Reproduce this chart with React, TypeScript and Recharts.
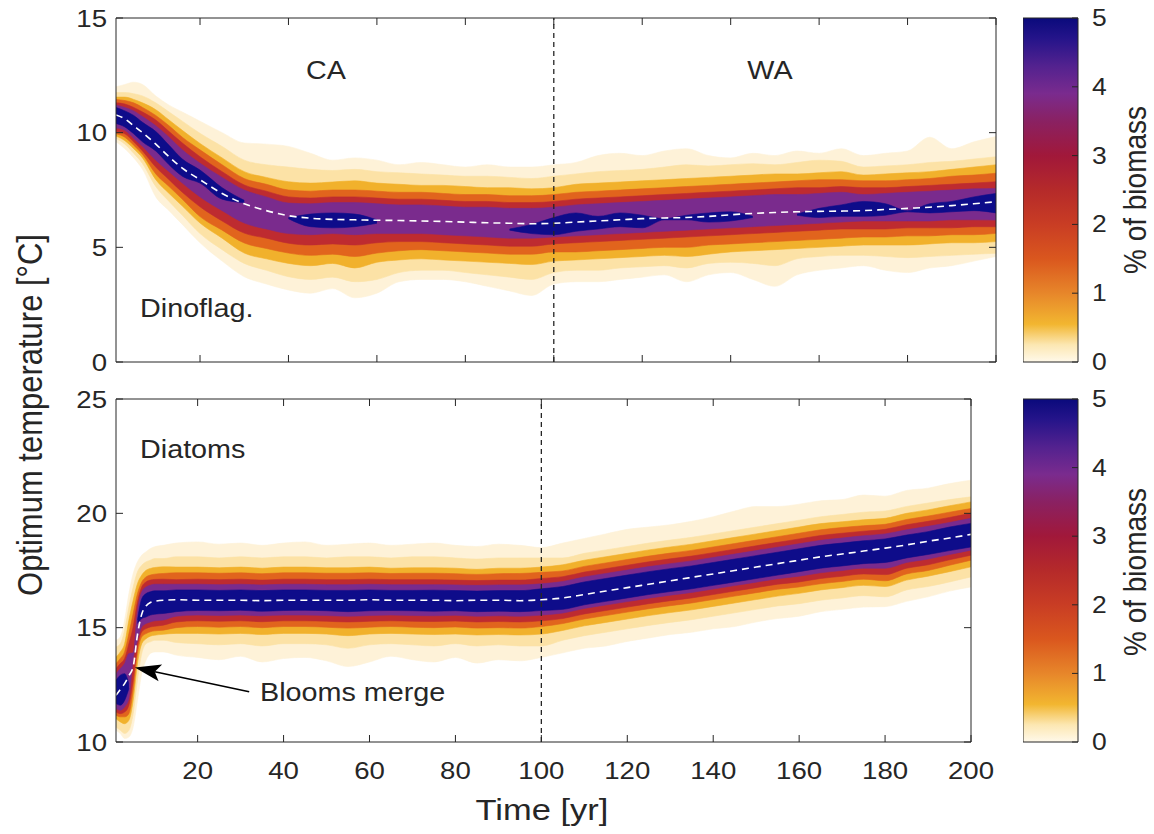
import {
  Area,
  Bar,
  BarChart,
  ComposedChart,
  Line,
  ReferenceLine,
  XAxis,
  YAxis,
} from "recharts";

type Range = [number, number] | null;

const INK = "#262626";
const FONT = '"Liberation Sans", Arial, Helvetica, sans-serif';
const STRETCH = 1.15;

// ---- Dinoflagellates (top panel) ----
const dinoYears = [1, 3, 5, 7, 10, 13, 16, 20, 25, 30, 35, 40, 45, 50, 55, 60, 65, 70, 75, 80, 85, 90, 95, 100, 105, 110, 115, 120, 125, 130, 135, 140, 145, 150, 155, 160, 165, 170, 175, 180, 185, 190, 195, 200];
const dinoMean = [10.77, 10.6, 10.3, 10.0, 9.5, 8.95, 8.45, 7.95, 7.35, 6.9, 6.6, 6.38, 6.27, 6.22, 6.2, 6.18, 6.17, 6.15, 6.13, 6.1, 6.07, 6.05, 6.03, 6.05, 6.1, 6.15, 6.2, 6.25, 6.28, 6.3, 6.35, 6.42, 6.48, 6.52, 6.55, 6.57, 6.58, 6.6, 6.65, 6.7, 6.75, 6.82, 6.9, 6.99];
const dinoCream: Range[] = [[9.6, 12.0], [9.3, 12.1], [8.9, 12.2], [8.4, 12.1], [7.2, 11.6], [6.6, 11.2], [6.0, 10.9], [5.2, 10.5], [4.4, 10.0], [3.72, 9.55], [3.4, 9.5], [3.14, 9.4], [3.0, 9.1], [3.2, 8.8], [2.8, 8.9], [3.0, 8.8], [3.5, 8.6], [3.6, 8.7], [3.6, 8.6], [3.5, 8.5], [3.3, 8.6], [3.1, 8.5], [2.9, 8.5], [3.4, 8.6], [3.5, 8.7], [3.5, 9.0], [3.6, 9.1], [3.7, 9.0], [3.8, 9.2], [3.5, 9.3], [3.8, 9.0], [3.9, 8.9], [3.6, 9.1], [3.3, 9.0], [3.8, 9.2], [4.0, 9.1], [4.1, 9.3], [4.2, 9.0], [4.0, 9.1], [3.9, 9.2], [4.1, 9.8], [4.2, 9.3], [4.4, 9.6], [4.6, 9.83]];
const dinoPeach: Range[] = [[9.75, 11.75], [9.5, 11.75], [9.1, 11.7], [8.65, 11.6], [7.65, 11.3], [7.0, 10.9], [6.4, 10.5], [5.6, 9.97], [4.9, 9.4], [4.3, 8.8], [4.0, 8.6], [3.72, 8.5], [3.6, 8.4], [3.7, 8.35], [3.5, 8.4], [3.6, 8.3], [3.9, 8.25], [4.0, 8.2], [4.0, 8.15], [3.9, 8.1], [3.8, 8.1], [3.7, 8.05], [3.6, 8.0], [3.9, 8.1], [4.0, 8.2], [4.0, 8.3], [4.1, 8.35], [4.15, 8.4], [4.2, 8.5], [4.1, 8.6], [4.3, 8.55], [4.35, 8.6], [4.3, 8.65], [4.2, 8.6], [4.5, 8.7], [4.6, 8.8], [4.65, 8.75], [4.65, 8.5], [4.6, 8.55], [4.55, 8.6], [4.6, 8.7], [4.65, 8.75], [4.7, 8.85], [4.74, 8.95]];
const dinoGold: Range[] = [[9.85, 11.55], [9.65, 11.55], [9.3, 11.45], [8.9, 11.3], [7.95, 11.0], [7.35, 10.55], [6.8, 10.1], [6.06, 9.53], [5.4, 8.9], [4.75, 8.3], [4.5, 8.05], [4.3, 7.86], [4.2, 7.8], [4.3, 7.85], [4.1, 7.9], [4.35, 7.8], [4.45, 7.75], [4.5, 7.7], [4.45, 7.7], [4.4, 7.65], [4.35, 7.6], [4.3, 7.6], [4.25, 7.55], [4.4, 7.6], [4.45, 7.75], [4.5, 7.8], [4.55, 7.85], [4.6, 7.9], [4.65, 7.95], [4.6, 8.0], [4.7, 8.05], [4.8, 8.1], [4.85, 8.15], [4.9, 8.2], [4.95, 8.2], [5.0, 8.25], [5.05, 8.3], [5.1, 8.15], [5.1, 8.2], [5.1, 8.25], [5.15, 8.3], [5.2, 8.4], [5.2, 8.5], [5.25, 8.6]];
const dinoOrange: Range[] = [[9.95, 11.45], [9.8, 11.4], [9.45, 11.3], [9.05, 11.1], [8.2, 10.75], [7.65, 10.3], [7.1, 9.8], [6.34, 9.25], [5.75, 8.6], [5.19, 8.0], [4.95, 7.75], [4.75, 7.5], [4.65, 7.45], [4.7, 7.5], [4.6, 7.5], [4.75, 7.45], [4.85, 7.4], [4.9, 7.4], [4.85, 7.35], [4.8, 7.3], [4.75, 7.3], [4.7, 7.25], [4.7, 7.25], [4.8, 7.3], [4.8, 7.4], [4.85, 7.45], [4.9, 7.5], [4.95, 7.55], [5.0, 7.6], [5.0, 7.65], [5.1, 7.7], [5.15, 7.75], [5.2, 7.8], [5.25, 7.85], [5.3, 7.9], [5.35, 7.95], [5.4, 7.95], [5.45, 7.9], [5.45, 7.9], [5.5, 7.95], [5.5, 8.0], [5.55, 8.1], [5.55, 8.15], [5.61, 8.23]];
const dinoRed: Range[] = [[10.05, 11.3], [9.95, 11.25], [9.6, 11.1], [9.2, 10.9], [8.5, 10.55], [7.95, 10.05], [7.4, 9.55], [6.77, 8.95], [6.15, 8.3], [5.62, 7.72], [5.4, 7.45], [5.18, 7.2], [5.1, 7.15], [5.15, 7.2], [5.1, 7.2], [5.2, 7.15], [5.25, 7.1], [5.25, 7.1], [5.2, 7.05], [5.15, 7.0], [5.1, 7.0], [5.05, 6.95], [5.05, 6.95], [5.15, 7.0], [5.2, 7.1], [5.25, 7.15], [5.3, 7.2], [5.35, 7.25], [5.4, 7.3], [5.45, 7.35], [5.5, 7.4], [5.55, 7.45], [5.6, 7.5], [5.65, 7.55], [5.7, 7.6], [5.75, 7.6], [5.8, 7.65], [5.8, 7.6], [5.8, 7.6], [5.85, 7.65], [5.85, 7.7], [5.85, 7.75], [5.9, 7.8], [5.9, 7.86]];
const dinoPurple: Range[] = [[10.2, 11.2], [10.1, 11.1], [9.75, 10.95], [9.4, 10.7], [8.8, 10.3], [8.3, 9.8], [7.8, 9.25], [7.2, 8.67], [6.6, 8.05], [6.06, 7.5], [5.8, 7.2], [5.6, 6.93], [5.55, 6.9], [5.6, 6.95], [5.55, 6.95], [5.6, 6.9], [5.6, 6.85], [5.6, 6.85], [5.55, 6.8], [5.5, 6.75], [5.45, 6.75], [5.4, 6.7], [5.4, 6.7], [5.45, 6.75], [5.5, 6.85], [5.55, 6.9], [5.6, 6.95], [5.65, 7.0], [5.7, 7.05], [5.75, 7.1], [5.8, 7.15], [5.85, 7.2], [5.9, 7.25], [5.95, 7.3], [6.0, 7.3], [6.05, 7.35], [6.1, 7.4], [6.15, 7.3], [6.15, 7.35], [6.15, 7.4], [6.15, 7.45], [6.2, 7.5], [6.2, 7.55], [6.19, 7.57]];
const dinoNavy: Range[] = [[10.4, 11.1], [10.25, 10.95], [9.95, 10.75], [9.6, 10.45], [9.2, 10.05], [8.6, 9.45], [8.1, 8.85], [7.8, 8.37], [7.1, 7.6], [6.95, 7.05], null, [6.25, 6.3], [5.9, 6.45], [5.85, 6.5], [5.9, 6.45], [6.05, 6.2], null, null, null, null, null, [5.75, 5.8], [5.6, 6.0], [5.55, 6.3], [5.7, 6.5], [5.8, 6.35], [5.9, 6.5], [5.85, 6.4], [6.2, 6.25], [6.2, 6.4], [6.1, 6.5], [6.15, 6.55], [6.3, 6.35], null, [6.4, 6.45], [6.3, 6.7], [6.35, 6.85], [6.35, 7.0], [6.4, 6.9], [6.55, 6.6], [6.5, 6.9], [6.55, 7.0], [6.6, 7.2], [6.5, 7.35]];

// ---- Diatoms (bottom panel) ----
const diaYears = [1, 2, 3, 4, 5, 6, 7, 8, 9, 10, 12, 15, 20, 25, 30, 35, 40, 45, 50, 55, 60, 65, 70, 75, 80, 85, 90, 95, 100, 105, 110, 115, 120, 125, 130, 135, 140, 145, 150, 155, 160, 165, 170, 175, 180, 185, 190, 195, 200];
const diaMean = [12.04, 12.3, 12.55, 12.9, 13.3, 14.7, 15.6, 15.95, 16.1, 16.15, 16.2, 16.22, 16.2, 16.2, 16.2, 16.18, 16.2, 16.2, 16.2, 16.2, 16.22, 16.2, 16.2, 16.2, 16.18, 16.2, 16.2, 16.18, 16.22, 16.3, 16.45, 16.6, 16.75, 16.9, 17.05, 17.2, 17.35, 17.5, 17.65, 17.8, 17.95, 18.1, 18.22, 18.35, 18.48, 18.62, 18.78, 18.92, 19.08];
const diaCream: Range[] = [[10.51, 14.45], [10.37, 14.6], [10.15, 15.33], [10.22, 16.49], [10.66, 17.37], [11.82, 17.88], [13.0, 18.17], [13.58, 18.32], [13.87, 18.46], [13.94, 18.54], [13.94, 18.6], [13.8, 18.7], [13.7, 18.75], [13.6, 18.65], [13.75, 18.7], [13.5, 18.6], [13.65, 18.7], [13.7, 18.75], [13.55, 18.6], [13.3, 18.65], [13.5, 18.7], [13.75, 18.6], [13.6, 18.65], [13.5, 18.7], [13.7, 18.6], [13.45, 18.55], [13.6, 18.65], [13.55, 18.6], [13.7, 18.5], [13.9, 18.7], [14.1, 18.9], [14.2, 19.1], [14.4, 19.3], [14.55, 19.4], [14.7, 19.5], [14.8, 19.65], [14.95, 19.85], [15.05, 20.1], [15.25, 20.3], [15.4, 20.3], [15.5, 20.4], [15.7, 20.55], [15.8, 20.6], [15.9, 20.8], [15.92, 20.75], [16.15, 21.0], [16.35, 21.1], [16.6, 21.3], [16.78, 21.45]];
const diaPeach: Range[] = [[10.66, 14.16], [10.51, 14.3], [10.37, 14.89], [10.51, 15.91], [11.24, 16.78], [12.7, 17.44], [13.87, 17.73], [14.3, 17.88], [14.38, 17.95], [14.45, 18.02], [14.45, 18.02], [14.35, 18.1], [14.3, 18.1], [14.25, 18.05], [14.3, 18.1], [14.2, 18.05], [14.3, 18.1], [14.3, 18.1], [14.25, 18.05], [14.1, 18.1], [14.25, 18.1], [14.3, 18.05], [14.25, 18.1], [14.2, 18.1], [14.3, 18.05], [14.2, 18.0], [14.25, 18.05], [14.2, 18.05], [14.2, 18.05], [14.45, 18.05], [14.65, 18.25], [14.8, 18.4], [14.95, 18.55], [15.1, 18.7], [15.23, 18.83], [15.35, 18.95], [15.5, 19.1], [15.65, 19.25], [15.8, 19.4], [15.95, 19.55], [16.05, 19.7], [16.2, 19.85], [16.3, 19.95], [16.4, 20.05], [16.35, 20.1], [16.65, 20.3], [16.8, 20.45], [17.0, 20.6], [17.22, 20.72]];
const diaGold: Range[] = [[11.02, 13.72], [10.88, 13.94], [10.8, 14.3], [10.95, 15.33], [11.82, 16.2], [13.43, 16.93], [14.3, 17.3], [14.52, 17.51], [14.63, 17.59], [14.67, 17.63], [14.71, 17.66], [14.75, 17.65], [14.75, 17.65], [14.72, 17.62], [14.75, 17.65], [14.7, 17.6], [14.75, 17.65], [14.75, 17.65], [14.72, 17.62], [14.65, 17.62], [14.72, 17.65], [14.75, 17.6], [14.72, 17.62], [14.7, 17.62], [14.72, 17.6], [14.68, 17.55], [14.7, 17.6], [14.68, 17.6], [14.72, 17.65], [14.88, 17.75], [15.08, 17.95], [15.23, 18.1], [15.38, 18.25], [15.53, 18.4], [15.66, 18.53], [15.78, 18.65], [15.93, 18.8], [16.08, 18.95], [16.23, 19.1], [16.38, 19.25], [16.5, 19.4], [16.65, 19.55], [16.75, 19.63], [16.85, 19.72], [16.8, 19.78], [17.08, 20.0], [17.25, 20.15], [17.45, 20.33], [17.66, 20.5]];
const diaOrange: Range[] = [[11.17, 13.43], [11.1, 13.65], [11.1, 13.94], [11.24, 14.74], [12.26, 15.62], [13.87, 16.49], [14.6, 17.0], [14.74, 17.22], [14.82, 17.3], [14.86, 17.34], [14.89, 17.37], [15.0, 17.4], [15.05, 17.4], [15.02, 17.38], [15.05, 17.4], [15.0, 17.36], [15.05, 17.4], [15.05, 17.4], [15.02, 17.38], [14.98, 17.38], [15.02, 17.4], [15.05, 17.37], [15.02, 17.38], [15.0, 17.38], [15.03, 17.36], [14.98, 17.33], [15.0, 17.36], [14.98, 17.37], [15.05, 17.42], [15.18, 17.48], [15.38, 17.68], [15.53, 17.83], [15.68, 17.98], [15.83, 18.13], [15.96, 18.26], [16.08, 18.38], [16.23, 18.53], [16.38, 18.68], [16.53, 18.83], [16.68, 18.98], [16.78, 19.13], [16.92, 19.28], [17.02, 19.38], [17.12, 19.46], [17.05, 19.52], [17.35, 19.73], [17.5, 19.88], [17.73, 20.05], [17.95, 20.21]];
const diaRed: Range[] = [[11.31, 13.21], [11.24, 13.43], [11.31, 13.65], [11.61, 14.3], [12.7, 15.03], [14.16, 16.13], [14.82, 16.78], [14.96, 17.0], [15.03, 17.08], [15.06, 17.11], [15.11, 17.12], [15.25, 17.1], [15.3, 17.12], [15.28, 17.1], [15.3, 17.12], [15.26, 17.08], [15.3, 17.12], [15.3, 17.12], [15.28, 17.1], [15.25, 17.1], [15.28, 17.12], [15.3, 17.1], [15.28, 17.1], [15.27, 17.1], [15.29, 17.08], [15.25, 17.06], [15.27, 17.08], [15.25, 17.08], [15.3, 17.15], [15.4, 17.23], [15.6, 17.43], [15.75, 17.58], [15.9, 17.73], [16.05, 17.88], [16.18, 18.01], [16.3, 18.13], [16.45, 18.28], [16.6, 18.43], [16.75, 18.58], [16.9, 18.73], [17.0, 18.88], [17.15, 19.03], [17.25, 19.13], [17.35, 19.22], [17.32, 19.3], [17.6, 19.5], [17.75, 19.65], [17.97, 19.82], [18.17, 20.0]];
const diaPurple: Range[] = [[11.46, 12.99], [11.39, 13.21], [11.53, 13.43], [11.9, 13.87], [13.6, 13.9], [14.45, 15.76], [15.03, 16.57], [15.18, 16.78], [15.25, 16.86], [15.3, 16.9], [15.33, 16.9], [15.5, 16.9], [15.55, 16.9], [15.53, 16.88], [15.55, 16.9], [15.52, 16.87], [15.55, 16.9], [15.55, 16.9], [15.53, 16.88], [15.5, 16.88], [15.53, 16.9], [15.55, 16.88], [15.53, 16.88], [15.52, 16.88], [15.54, 16.87], [15.5, 16.85], [15.52, 16.87], [15.5, 16.87], [15.55, 16.92], [15.64, 17.02], [15.84, 17.22], [15.99, 17.37], [16.14, 17.52], [16.29, 17.67], [16.42, 17.8], [16.54, 17.92], [16.69, 18.07], [16.84, 18.22], [16.99, 18.37], [17.14, 18.52], [17.25, 18.67], [17.4, 18.82], [17.5, 18.92], [17.6, 19.02], [17.6, 19.1], [17.85, 19.28], [18.0, 19.43], [18.2, 19.6], [18.39, 19.78]];
const diaNavy: Range[] = [[11.68, 12.7], [11.61, 12.92], [11.82, 12.99], [12.34, 12.55], null, [15.18, 15.33], [15.4, 16.27], [15.47, 16.49], [15.55, 16.57], [15.59, 16.61], [15.62, 16.61], [15.7, 16.65], [15.75, 16.65], [15.74, 16.63], [15.76, 16.65], [15.72, 16.62], [15.75, 16.65], [15.76, 16.65], [15.74, 16.63], [15.7, 16.63], [15.74, 16.65], [15.75, 16.63], [15.74, 16.63], [15.72, 16.64], [15.74, 16.62], [15.7, 16.6], [15.72, 16.62], [15.7, 16.62], [15.75, 16.7], [15.8, 16.8], [16.0, 17.0], [16.15, 17.15], [16.3, 17.3], [16.45, 17.45], [16.58, 17.58], [16.7, 17.7], [16.85, 17.85], [17.0, 18.0], [17.15, 18.15], [17.3, 18.3], [17.45, 18.45], [17.6, 18.6], [17.7, 18.7], [17.8, 18.8], [17.85, 18.88], [18.05, 19.05], [18.2, 19.2], [18.37, 19.4], [18.53, 19.56]];

// ---- axes / colour scale ----
const X_TICKS = [20, 40, 60, 80, 100, 120, 140, 160, 180, 200];
const DINO_Y_TICKS = [0, 5, 10, 15];
const DIA_Y_TICKS = [10, 15, 20, 25];
const CBAR_TICKS = [0, 1, 2, 3, 4, 5];
const CBAR_DATA = [{ name: "biomass", v: 5 }];
const CMAP: [number, string][] = [
  [0, "#FFF9EA"], [0.25, "#FCE7B2"], [0.55, "#F2B630"], [1, "#E7862A"],
  [1.5, "#DA571E"], [2, "#C93D24"], [2.5, "#B52A2A"], [3, "#A1183A"],
  [3.5, "#8A2162"], [3.9, "#7A2B8E"], [4.3, "#53228F"], [4.7, "#25148A"], [5, "#0A0A7C"],
];

const BANDS = ["cream", "peach", "gold", "orange", "red", "purple", "navy"] as const;
const BAND_FILL: Record<string, string> = {
  cream: "#FEF2D8",
  peach: "#FCE2A6",
  gold: "#F1B12C",
  orange: "#E1641D",
  red: "#BE2B30",
  purple: "#7A2B8D",
  navy: "#0E0C8A",
};

const dinoRows = dinoYears.map((t, i) => ({
  t, mean: dinoMean[i], cream: dinoCream[i], peach: dinoPeach[i], gold: dinoGold[i],
  orange: dinoOrange[i], red: dinoRed[i], purple: dinoPurple[i], navy: dinoNavy[i],
}));
const diaRows = diaYears.map((t, i) => ({
  t, mean: diaMean[i], cream: diaCream[i], peach: diaPeach[i], gold: diaGold[i],
  orange: diaOrange[i], red: diaRed[i], purple: diaPurple[i], navy: diaNavy[i],
}));

// MATLAB export looks horizontally stretched, so text gets a small x-scale.
function SText({ x, y, size, anchor = "start", rotate = 0, children }: any) {
  const tf = `translate(${x},${y}) scale(${STRETCH},1)${rotate ? ` rotate(${rotate})` : ""}`;
  return (
    <text transform={tf} fontSize={size} textAnchor={anchor} fill={INK} fontFamily={FONT}>
      {children}
    </text>
  );
}

const blankTick = () => <g />;
const bottomTick = (p: any) => (
  <SText x={p.x} y={p.y + 37} size={24} anchor="middle">{p.payload.value}</SText>
);
const leftTick = (p: any) => (
  <SText x={p.x - 9} y={p.y + 8.5} size={24} anchor="end">{p.payload.value}</SText>
);
const cbarTick = (p: any) => (
  <SText x={p.x} y={p.y + 8} size={23}>{p.payload.value}</SText>
);

function Arrow(p: any) {
  const { x1, y1, x2, y2 } = p;
  const a = Math.atan2(y2 - y1, x2 - x1);
  const L = 26, W = 8.5;
  const cx = Math.cos(a), sy = Math.sin(a);
  const bx = x2 - L * cx, by = y2 - L * sy;
  const nx = x2 - L * 0.78 * cx, ny = y2 - L * 0.78 * sy;
  const pts = [
    [x2, y2],
    [bx - W * sy, by + W * cx],
    [nx, ny],
    [bx + W * sy, by - W * cx],
  ].map((q) => q.join(",")).join(" ");
  return (
    <g>
      <line x1={x1} y1={y1} x2={nx} y2={ny} stroke="#000" strokeWidth={1.6} />
      <polygon points={pts} fill="#000" />
    </g>
  );
}

function Panel({ rows, left, top, plotW, plotH, yDomain, yTicks, xLabels, children }: any) {
  const bottomH = xLabels ? 50 : 30;
  const right = 34;
  return (
    <div style={{ position: "absolute", left: left - 60, top: top - 17 }}>
      <ComposedChart
        width={60 + plotW + 1 + right}
        height={17 + plotH + bottomH}
        data={rows}
        margin={{ top: 16, right, bottom: 0, left: 0 }}
      >
        <XAxis xAxisId={0} dataKey="t" type="number" domain={[1, 200]} allowDataOverflow
          ticks={X_TICKS} interval={0} height={bottomH} stroke={INK} tickSize={-7} tickMargin={7}
          tick={xLabels ? bottomTick : blankTick} />
        <XAxis xAxisId="top" orientation="top" dataKey="t" type="number" domain={[1, 200]} allowDataOverflow
          ticks={X_TICKS} interval={0} height={1} stroke={INK} tickSize={-7} tick={blankTick} />
        <YAxis yAxisId={0} type="number" domain={yDomain} allowDataOverflow ticks={yTicks} interval={0}
          width={60} stroke={INK} tickSize={-7} tickMargin={7} tick={leftTick} />
        <YAxis yAxisId="right" orientation="right" type="number" domain={yDomain} allowDataOverflow
          ticks={yTicks} interval={0} width={1} stroke={INK} tickSize={-7} tick={blankTick} />
        {BANDS.map((b) => (
          <Area key={b} dataKey={b} type="monotone" fill={BAND_FILL[b]} fillOpacity={1}
            stroke={BAND_FILL[b]} strokeWidth={0.6} connectNulls={false} dot={false}
            activeDot={false} isAnimationActive={false} />
        ))}
        <Line dataKey="mean" type="monotone" stroke="#fff" strokeWidth={1.6} strokeDasharray="7 5"
          dot={false} activeDot={false} isAnimationActive={false} />
        <ReferenceLine x={100} stroke={INK} strokeWidth={1.3} strokeDasharray="5 4" />
        {children}
      </ComposedChart>
    </div>
  );
}

function ColorBar({ left, top, plotH, id }: any) {
  return (
    <div style={{ position: "absolute", left, top: top - 16 }}>
      <BarChart width={55 + 45} height={plotH + 32} data={CBAR_DATA}
        margin={{ top: 16, right: 0, bottom: 16, left: 0 }} barCategoryGap={0}>
        <defs>
          <linearGradient id={id} x1="0" y1="1" x2="0" y2="0">
            {CMAP.map(([v, c]) => <stop key={v} offset={v / 5} stopColor={c} />)}
          </linearGradient>
        </defs>
        <XAxis dataKey="name" hide />
        <YAxis orientation="right" type="number" domain={[0, 5]} ticks={CBAR_TICKS} interval={0}
          width={45} axisLine={false} stroke={INK} tickSize={-6} tickMargin={20} tick={cbarTick} />
        <Bar dataKey="v" fill={`url(#${id})`} stroke={INK} strokeWidth={1} isAnimationActive={false} />
      </BarChart>
    </div>
  );
}

export default function App() {
  return (
    <div style={{ position: "absolute", left: 0, top: 0, width: 1154, height: 834, background: "#fff" }}>
      <Panel rows={dinoRows} left={116} top={18} plotW={880} plotH={344}
        yDomain={[0, 15]} yTicks={DINO_Y_TICKS} xLabels={false} />
      <Panel rows={diaRows} left={116} top={399} plotW={855} plotH={343}
        yDomain={[10, 25]} yTicks={DIA_Y_TICKS} xLabels>
        <ReferenceLine segment={[{ x: 32, y: 12.2 }, { x: 5.4, y: 13.26 }]} shape={Arrow} ifOverflow="visible" />
      </Panel>
      <ColorBar left={1023} top={18} plotH={344} id="cmapTop" />
      <ColorBar left={1023} top={399} plotH={343} id="cmapBottom" />
      <svg width={1154} height={834} style={{ position: "absolute", left: 0, top: 0, pointerEvents: "none" }}>
        <SText x={326} y={79} size={25} anchor="middle">CA</SText>
        <SText x={770} y={79} size={25} anchor="middle">WA</SText>
        <SText x={140} y={317} size={25}>Dinoflag.</SText>
        <SText x={140} y={458} size={25}>Diatoms</SText>
        <SText x={260} y={701} size={25}>Blooms merge</SText>
        <SText x={542} y={820} size={30} anchor="middle">Time [yr]</SText>
        <SText x={42} y={415} size={31} anchor="middle" rotate={-90}>Optimum temperature [°C]</SText>
        <SText x={1146} y={190} size={28} anchor="middle" rotate={-90}>% of biomass</SText>
        <SText x={1146} y={572} size={28} anchor="middle" rotate={-90}>% of biomass</SText>
      </svg>
    </div>
  );
}
